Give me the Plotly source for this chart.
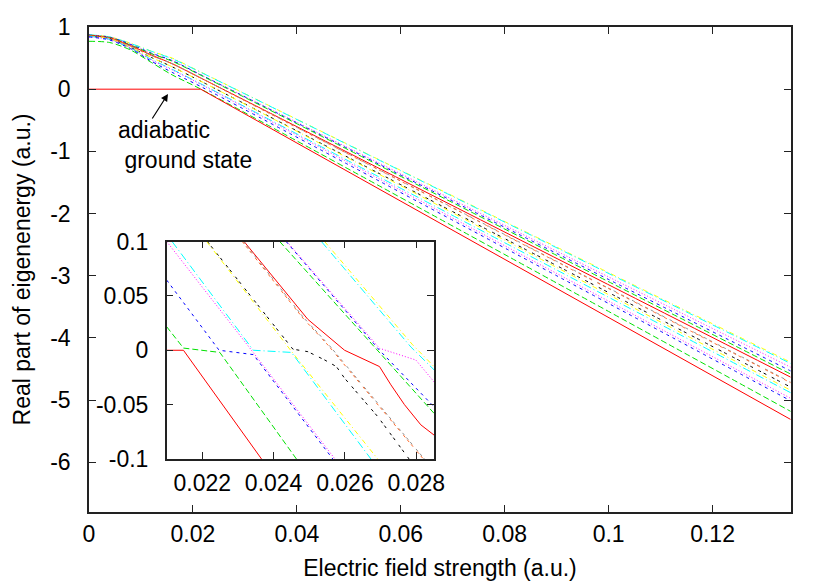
import plotly.graph_objects as go

# ---------------- data ----------------
# main plot: field strength sample points and eigenenergies for the 15 curves
MAIN_X = [0.0, 0.004, 0.008, 0.012, 0.016, 0.0215, 0.135]
MAIN_Y_01 = [0.0, 0.0, 0.0, 0.0, 0.0, 0.0, -5.31]
MAIN_Y_02 = [0.77, 0.75, 0.63, 0.43, 0.23, 0.002, -5.18]
MAIN_Y_03 = [0.84, 0.79, 0.65, 0.45, 0.27, 0.043, -5.01]
MAIN_Y_04 = [0.845, 0.80, 0.66, 0.47, 0.31, 0.079, -4.97]
MAIN_Y_05 = [0.85, 0.80, 0.66, 0.48, 0.32, 0.087, -4.88]
MAIN_Y_06 = [0.855, 0.81, 0.67, 0.51, 0.36, 0.129, -4.84]
MAIN_Y_07 = [0.855, 0.81, 0.67, 0.51, 0.36, 0.129, -4.79]
MAIN_Y_08 = [0.86, 0.82, 0.69, 0.54, 0.41, 0.179, -4.72]
MAIN_Y_09 = [0.86, 0.82, 0.69, 0.54, 0.41, 0.180, -4.71]
MAIN_Y_10 = [0.865, 0.825, 0.70, 0.55, 0.41, 0.180, -4.63]
MAIN_Y_11 = [0.865, 0.83, 0.71, 0.57, 0.45, 0.224, -4.58]
MAIN_Y_12 = [0.87, 0.835, 0.72, 0.58, 0.46, 0.232, -4.53]
MAIN_Y_13 = [0.87, 0.835, 0.72, 0.58, 0.46, 0.233, -4.47]
MAIN_Y_14 = [0.875, 0.84, 0.735, 0.61, 0.49, 0.272, -4.41]
MAIN_Y_15 = [0.875, 0.84, 0.74, 0.61, 0.50, 0.276, -4.39]

# inset: break points of each curve (zoom around the crossings)
INS_X_01 = [0.021, 0.02147, 0.02366]
INS_Y_01 = [0.0, 0.0, -0.1]
INS_X_02 = [0.021, 0.02147, 0.02249, 0.02464]
INS_Y_02 = [0.0216, 0.002, -0.002, -0.1]
INS_X_03 = [0.021, 0.02247, 0.02343, 0.02566]
INS_Y_03 = [0.0645, 0.0, -0.004, -0.1]
INS_X_04 = [0.02100, 0.02345, 0.02572]
INS_Y_04 = [0.1, -0.003, -0.1]
INS_X_05 = [0.02115, 0.02343, 0.02450, 0.02673]
INS_Y_05 = [0.1, 0.0, -0.002, -0.1]
INS_X_06 = [0.02212, 0.02450, 0.02692]
INS_Y_06 = [0.1, -0.001, -0.1]
INS_X_07 = [0.02214, 0.02454, 0.02496, 0.02543, 0.02576, 0.02599, 0.02692, 0.02780]
INS_Y_07 = [0.1, 0.001, -0.0013, -0.0089, -0.015, -0.0257, -0.061, -0.1]
INS_X_08 = [0.02312, 0.02482, 0.02552, 0.02692, 0.02820]
INS_Y_08 = [0.1, 0.0296, 0.0049, -0.050, -0.1]
INS_X_09 = [0.02315, 0.02485, 0.02555, 0.02695, 0.02823]
INS_Y_09 = [0.1, 0.0296, 0.0049, -0.050, -0.1]
INS_X_10 = [0.02317, 0.02496, 0.02599, 0.02697, 0.02729, 0.02767, 0.02813, 0.02850]
INS_Y_10 = [0.1, 0.0284, 0.0, -0.015, -0.0318, -0.050, -0.0686, -0.078]
INS_X_11 = [0.02417, 0.02678, 0.02850]
INS_Y_11 = [0.1, 0.005, -0.058]
INS_X_12 = [0.02435, 0.02697, 0.02850]
INS_Y_12 = [0.1, 0.0, -0.052]
INS_X_13 = [0.02437, 0.02697, 0.02799, 0.02850]
INS_Y_13 = [0.1, 0.0018, -0.009, -0.029]
INS_X_14 = [0.02534, 0.02785, 0.02850]
INS_Y_14 = [0.1, 0.003, -0.018]
INS_X_15 = [0.02543, 0.02790, 0.02850]
INS_Y_15 = [0.1, 0.005, -0.015]

# ticks
MAIN_XTICKS = [0, 0.02, 0.04, 0.06, 0.08, 0.1, 0.12]
MAIN_XTICKTEXT = ["0", "0.02", "0.04", "0.06", "0.08", "0.1", "0.12"]
MAIN_YTICKS = [1, 0, -1, -2, -3, -4, -5, -6]
MAIN_YTICKTEXT = ["1", "0", "-1", "-2", "-3", "-4", "-5", "-6"]
INS_XTICKS = [0.022, 0.024, 0.026, 0.028]
INS_XTICKTEXT = ["0.022", "0.024", "0.026", "0.028"]
INS_YTICKS = [0.1, 0.05, 0, -0.05, -0.1]
INS_YTICKTEXT = ["0.1", "0.05", "0", "-0.05", "-0.1"]

# ---------------- styles (gnuplot postscript line types) ----------------
COLORS = ["#ff0000", "#00e000", "#0000ff", "#ff00ff", "#00ffff",
          "#ffff00", "#000000", "#ff6a2a", "#909090"]
DASHES = ["solid", "6px,3px", "3px,4px", "1px,2px", "8px,3px,1px,3px",
          "5px,3px,1px,3px", "3px,3px,3px,6px", "3px,3px,3px,3px,3px,6px",
          "3px,3px,3px,3px,3px,3px,3px,6px"]

main_series = [MAIN_Y_01, MAIN_Y_02, MAIN_Y_03, MAIN_Y_04, MAIN_Y_05,
               MAIN_Y_06, MAIN_Y_07, MAIN_Y_08, MAIN_Y_09, MAIN_Y_10,
               MAIN_Y_11, MAIN_Y_12, MAIN_Y_13, MAIN_Y_14, MAIN_Y_15]
inset_series = [(INS_X_01, INS_Y_01), (INS_X_02, INS_Y_02), (INS_X_03, INS_Y_03),
                (INS_X_04, INS_Y_04), (INS_X_05, INS_Y_05), (INS_X_06, INS_Y_06),
                (INS_X_07, INS_Y_07), (INS_X_08, INS_Y_08), (INS_X_09, INS_Y_09),
                (INS_X_10, INS_Y_10), (INS_X_11, INS_Y_11), (INS_X_12, INS_Y_12),
                (INS_X_13, INS_Y_13), (INS_X_14, INS_Y_14), (INS_X_15, INS_Y_15)]

fig = go.Figure()

# draw from top curve to bottom so the low red solid ends on top
for i in range(len(main_series) - 1, -1, -1):
    fig.add_trace(go.Scatter(
        x=MAIN_X, y=main_series[i], mode="lines",
        line=dict(color=COLORS[i % 9], dash=DASHES[i % 9], width=1,
                  shape="linear" if i == 0 else "spline", smoothing=0.8),
        xaxis="x", yaxis="y", showlegend=False, hoverinfo="skip"))

for i in range(len(inset_series) - 1, -1, -1):
    xs, ys = inset_series[i]
    fig.add_trace(go.Scatter(
        x=xs, y=ys, mode="lines",
        line=dict(color=COLORS[i % 9], dash=DASHES[i % 9], width=1),
        xaxis="x2", yaxis="y2", showlegend=False, hoverinfo="skip"))

FONT = "Liberation Sans, Arial, Helvetica, sans-serif"
FS = 23
axis_common = dict(showline=True, linecolor="#222222", linewidth=1.5,
                   mirror="ticks", ticks="inside", ticklen=7, tickwidth=1.2,
                   tickcolor="#222222", showgrid=False, zeroline=False,
                   automargin=False,
                   tickfont=dict(family=FONT, size=FS, color="black"))

fig.update_layout(
    width=830, height=581,
    margin=dict(l=89, r=39, t=27, b=69),
    paper_bgcolor="white", plot_bgcolor="white",
    font=dict(family=FONT, size=FS, color="black"),
    xaxis=dict(domain=[0, 1], range=[0, 0.1351], tickmode="array",
               tickvals=MAIN_XTICKS, ticktext=MAIN_XTICKTEXT,
               ticklabelstandoff=1,
               title=dict(text="Electric field strength (a.u.)",
                          font=dict(family=FONT, size=FS), standoff=19),
               **axis_common),
    yaxis=dict(domain=[0, 1], range=[-6.8, 1], tickmode="array",
               tickvals=MAIN_YTICKS, ticktext=MAIN_YTICKTEXT,
               ticklabelstandoff=12,
               title=dict(text="Real part of eigenenergy (a.u.)",
                          font=dict(family=FONT, size=FS), standoff=13),
               **axis_common),
    xaxis2=dict(domain=[0.1107, 0.4915], range=[0.021, 0.0285], anchor="y2",
                tickmode="array", tickvals=INS_XTICKS, ticktext=INS_XTICKTEXT,
                ticklabelstandoff=3, **axis_common),
    yaxis2=dict(domain=[0.1093, 0.5577], range=[-0.1, 0.1], anchor="x2",
                tickmode="array", tickvals=INS_YTICKS, ticktext=INS_YTICKTEXT,
                ticklabelstandoff=12, **axis_common),
)

# arrow and label for the adiabatic ground state
fig.add_annotation(x=0.0152, y=-0.076, ax=0.012, ay=-0.495,
                   xref="x", yref="y", axref="x", ayref="y",
                   text="", showarrow=True, arrowhead=2, arrowsize=1.2,
                   arrowwidth=1.2, arrowcolor="black")
fig.add_annotation(x=0.00527, y=-0.89, xref="x", yref="y",
                   text="adiabatic<br>\u00a0ground state",
                   showarrow=False, xanchor="left", yanchor="middle",
                   align="left",
                   font=dict(family=FONT, size=FS, color="black"))

fig.write_html("out.html", config={"displayModeBar": False},
               post_script="document.body.style.margin='0px';"
                           "document.body.style.overflow='hidden';")
